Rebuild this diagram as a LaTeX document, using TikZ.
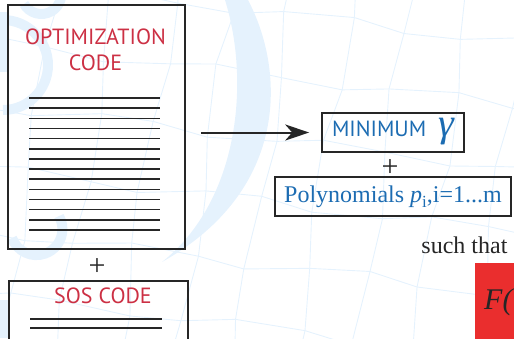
\documentclass[tikz,border=0pt]{standalone}
\usepackage{fontspec}
\setmainfont{Liberation Serif}
\setsansfont{PT Sans}
\usetikzlibrary{%
  positioning
 ,arrows.meta
}
\definecolor{codered}{RGB}{204,48,68}
\definecolor{resblue}{RGB}{28,108,178}
\definecolor{wmblue}{RGB}{229,242,253}
\definecolor{boxgray}{RGB}{38,38,38}
\definecolor{fred}{RGB}{234,46,46}
\tikzstyle{wmline}=[draw=wmblue,line width=0.9pt]
\tikzstyle{wmblob}=[draw=wmblue,line width=10pt]
\tikzstyle{codebox}=[rectangle,draw=boxgray,line width=1.9pt,inner sep=0pt]
\tikzstyle{codetitle}=[text=codered,font=\sffamily\fontsize{22}{26}\selectfont,align=center,inner sep=0pt]
\tikzstyle{codeline}=[draw=boxgray,line width=1.6pt]
\tikzstyle{resbox}=[rectangle,draw=boxgray,line width=1.6pt,inner sep=2pt]
\tikzstyle{plus}=[text=boxgray,font=\fontsize{30}{30}\selectfont,inner sep=0pt]

\begin{document}
\begin{tikzpicture}[x=1pt,y=-1pt,
    declare function={gx(\i,\j)=58*\i-10*\j+7*sin(131*\i+77*\j);
                       gy(\i,\j)=62*\j+7*\i+6*cos(97*\i+151*\j)-20;}]
  \useasboundingbox (0,0) rectangle (514,338);
  \clip (0,0) rectangle (514,338);

  % faint backdrop: warped grid, crescent and letter strokes
  \foreach \i in {-2,...,10}{
    \foreach \j in {-1,...,6}{
      \draw[wmline] ({gx(\i,\j)},{gy(\i,\j)}) -- ({gx(\i+1,\j)},{gy(\i+1,\j)});
      \draw[wmline] ({gx(\i,\j)},{gy(\i,\j)}) -- ({gx(\i,\j+1)},{gy(\i,\j+1)});
    }
  }
  \fill[wmblue] (248,0) .. controls (285,70) and (290,190) .. (162,262)
                        .. controls (240,200) and (250,80) .. (225,0) -- cycle;
  \draw[wmblob] (3,12) -- (3,72);
  \draw[wmblob] (24,4) arc[start angle=150,end angle=-10,radius=20];
  \draw[wmblob] (3,110) arc[start angle=90,end angle=-90,radius=45];
  \draw[wmblob] (12,238) arc[start angle=160,end angle=-30,radius=26];
  \draw[wmblob] (3,300) -- (3,338);

  % optimization code sheet
  \node[codebox,minimum width=177pt,minimum height=244pt] (code) at (96.5,127) {};
  \node[codetitle] (codetitle) at (95.5,50) {OPTIMIZATION\\CODE};
  \foreach \k in {0,...,13}
    \draw[codeline] (29,98+10.15*\k) -- (160,98+10.15*\k);

  \node[plus] (plusL) at (97,267) {+};

  % sos code sheet
  \node[codebox,minimum width=179pt,minimum height=80pt,anchor=north west] (sos) at (8,280) {};
  \node[codetitle] (sostitle) at (103,296) {SOS CODE};
  \draw[codeline] (30,319) -- (162,319);
  \draw[codeline] (30,328) -- (162,328);

  % result
  \node[resbox,minimum width=142pt,minimum height=39pt,text height=17pt,text depth=10pt] (minbox) at (393,132.5)
    {\textcolor{resblue}{\sffamily\fontsize{22}{22}\selectfont MINIMUM\hspace{12pt}%
     {\rmfamily\itshape\fontsize{40}{40}\selectfont γ}}};
  \node[plus] (plusR) at (390,168) {+};
  \node[resbox,minimum width=236pt,minimum height=39pt] (polybox) at (393,196.5)
    {\textcolor{resblue}{\fontsize{24}{24}\selectfont Polynomials
     {\itshape p}\raisebox{-5pt}{\fontsize{17}{17}\selectfont i},i=1...m}};
  \node[anchor=east,text=boxgray,font=\fontsize{24}{24}\selectfont] (such) at (511,245) {such that};

  \fill[fred] (475,263) rectangle (530,350);
  \node[anchor=west,text=boxgray,font=\itshape\fontsize{30}{30}\selectfont,inner sep=0pt] (Fpart) at (484,302) {F(};

  \draw[-{Stealth[length=24pt,width=16pt,inset=7pt]},line width=2pt,draw=boxgray,
        shorten <=15pt,shorten >=12pt] (code.east |- minbox.west) -- (minbox.west);
\end{tikzpicture}
\end{document}
